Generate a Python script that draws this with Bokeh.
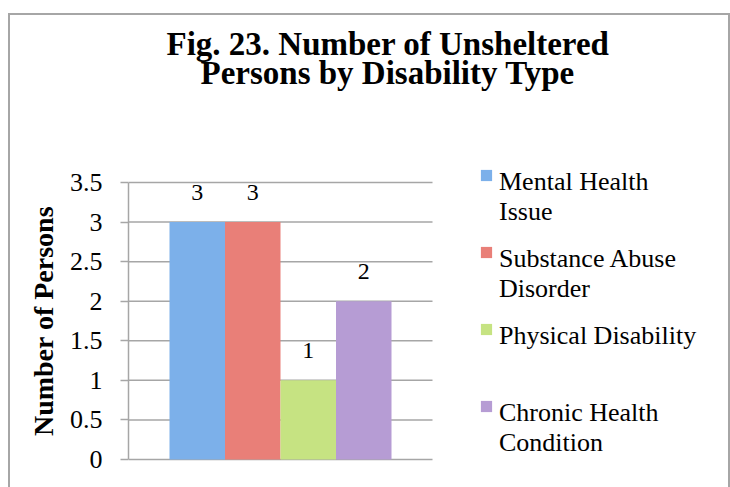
from bokeh.plotting import figure
from bokeh.models import (Range1d, FixedTicker, Legend, LegendItem, Title,
                          LabelSet, ColumnDataSource, NumeralTickFormatter)
from bokeh.core.properties import value
from bokeh.embed import file_html
from bokeh.resources import INLINE

# ---- data ----
title_lines = ["Fig. 23. Number of Unsheltered", "Persons by Disability Type"]
series = ["Mental Health Issue", "Substance Abuse Disorder", "Physical Disability", "Chronic Health Condition"]
legend_lines = [["Mental Health", "Issue"], ["Substance Abuse", "Disorder"],
                ["Physical Disability", " "], ["Chronic Health", "Condition"]]
counts = [3, 3, 1, 2]
colors = ["#7cb0ea", "#e97f78", "#c6e382", "#b69cd4"]
y_ticks = [0, 0.5, 1, 1.5, 2, 2.5, 3, 3.5]
y_tick_labels = ["0", "0.5", "1", "1.5", "2", "2.5", "3", "3.5"]
y_axis_title = "Number of Persons"

SERIF = "Liberation Serif"
GRAY = "#a6a6a6"

# ---- layout constants (pixels) ----
W, H = 730, 487
FRAME_LEFT = 128
FRAME_TOP = 154          # frame spans 154..487 so its centre matches the plot area's centre
PLOT_TOP, PLOT_BOTTOM = 182, 459   # canvas y of the 3.5 and 0 gridlines
PLOT_W = 304             # width of the gridded plot area
PX_PER_BAR = 55.5        # width of one bar
LEFT_PAD = 41            # gap between axis and first bar
Y_MAX = 3.5

frame_w = W - FRAME_LEFT
x_start = -0.5 - LEFT_PAD / PX_PER_BAR
x_end = x_start + frame_w / PX_PER_BAR
grid_end = x_start + PLOT_W / PX_PER_BAR
px_per_unit_y = (PLOT_BOTTOM - PLOT_TOP) / Y_MAX
y_pad = (PLOT_TOP - FRAME_TOP) / px_per_unit_y

xs = list(range(len(series)))
src = ColumnDataSource(dict(x=xs, top=counts, color=colors, label=[str(c) for c in counts]))

p = figure(width=W, height=H, x_range=Range1d(x_start, x_end),
           y_range=Range1d(-y_pad, Y_MAX + y_pad),
           output_backend="svg", toolbar_location=None,
           min_border_left=FRAME_LEFT, min_border_right=0, min_border_top=FRAME_TOP,
           min_border_bottom=0)
p.outline_line_color = None
p.background_fill_alpha = 0
p.border_fill_alpha = 0
g = "linear-gradient(%s,%s)" % (GRAY, GRAY)
p.styles = {
    "background": (g + " 8px 13px / 722px 2px no-repeat, "
                   + g + " 8px 13px / 2px 474px no-repeat, "
                   + g + " 728px 13px / 2px 474px no-repeat, white"),
}

# horizontal gridlines limited to the plot area
p.segment(x0=[x_start] * len(y_ticks), x1=[grid_end] * len(y_ticks), y0=y_ticks, y1=y_ticks,
          line_color=GRAY, line_width=1.5)

r = p.vbar(x="x", top="top", width=1.0, fill_color="color", line_color=None, source=src)

# axes
p.xaxis.visible = False
p.xgrid.visible = False
p.ygrid.visible = False
ax = p.yaxis[0]
ax.bounds = (0, Y_MAX)
ax.ticker = FixedTicker(ticks=y_ticks)
ax.formatter = NumeralTickFormatter(format="0.[0]")
ax.major_label_overrides = {t: l for t, l in zip(y_ticks, y_tick_labels)}
ax.axis_line_color = GRAY
ax.axis_line_width = 1.5
ax.major_tick_line_color = GRAY
ax.major_tick_line_width = 1.5
ax.major_tick_out = 8
ax.major_tick_in = 0
ax.minor_tick_line_color = None
ax.major_label_standoff = 18
ax.major_label_text_font = SERIF
ax.major_label_text_font_size = "26px"
ax.major_label_text_color = "black"
ax.axis_label = y_axis_title
ax.axis_label_text_font = SERIF
ax.axis_label_text_font_style = "bold"
ax.axis_label_text_font_size = "28px"
ax.axis_label_text_color = "black"
ax.axis_label_standoff = 8

# data labels
labels = LabelSet(x="x", y="top", text="label", source=src, y_offset=22,
                  text_align="center", text_baseline="alphabetic",
                  text_font=value(SERIF), text_font_size=value("24px"), text_color="black")
p.add_layout(labels)

# legend: texts (no swatch) and swatches (no text), so the swatch sits on the first text line
text_items = [LegendItem(label="\n".join(legend_lines[i]), renderers=[r], index=i)
              for i in range(len(series))]
legend_text = Legend(items=text_items, location=(371, 29), orientation="vertical",
                     glyph_width=0, glyph_height=14, label_standoff=0, spacing=17,
                     padding=0, margin=0, border_line_color=None, background_fill_alpha=0,
                     label_text_font=SERIF, label_text_font_size="26px",
                     label_text_line_height=1.27, label_text_color="black")
swatch_items = [LegendItem(label=" ", renderers=[r], index=i) for i in range(len(series))]
legend_swatch = Legend(items=swatch_items, location=(351, 74), orientation="vertical",
                       glyph_width=14, glyph_height=14, label_standoff=0, label_width=0,
                       label_height=14, spacing=63, padding=0, margin=0,
                       border_line_color=None, background_fill_alpha=0,
                       label_text_font_size="1px")
p.add_layout(legend_text)
p.add_layout(legend_swatch)

# title: spacer nearest the frame, then line 2, then line 1
spacer = Title(text=" ", text_font_size="1px", standoff=65, align="left")
p.add_layout(spacer, "above")
offsets = [38, 72]
for line, off in reversed(list(zip(title_lines, offsets))):
    t = Title(text=line, align="left", offset=off, vertical_align="bottom", standoff=-9,
              text_font=SERIF, text_font_style="bold", text_font_size="33px", text_color="black")
    p.add_layout(t, "above")

open("out.html", "w").write(file_html(p, INLINE))
